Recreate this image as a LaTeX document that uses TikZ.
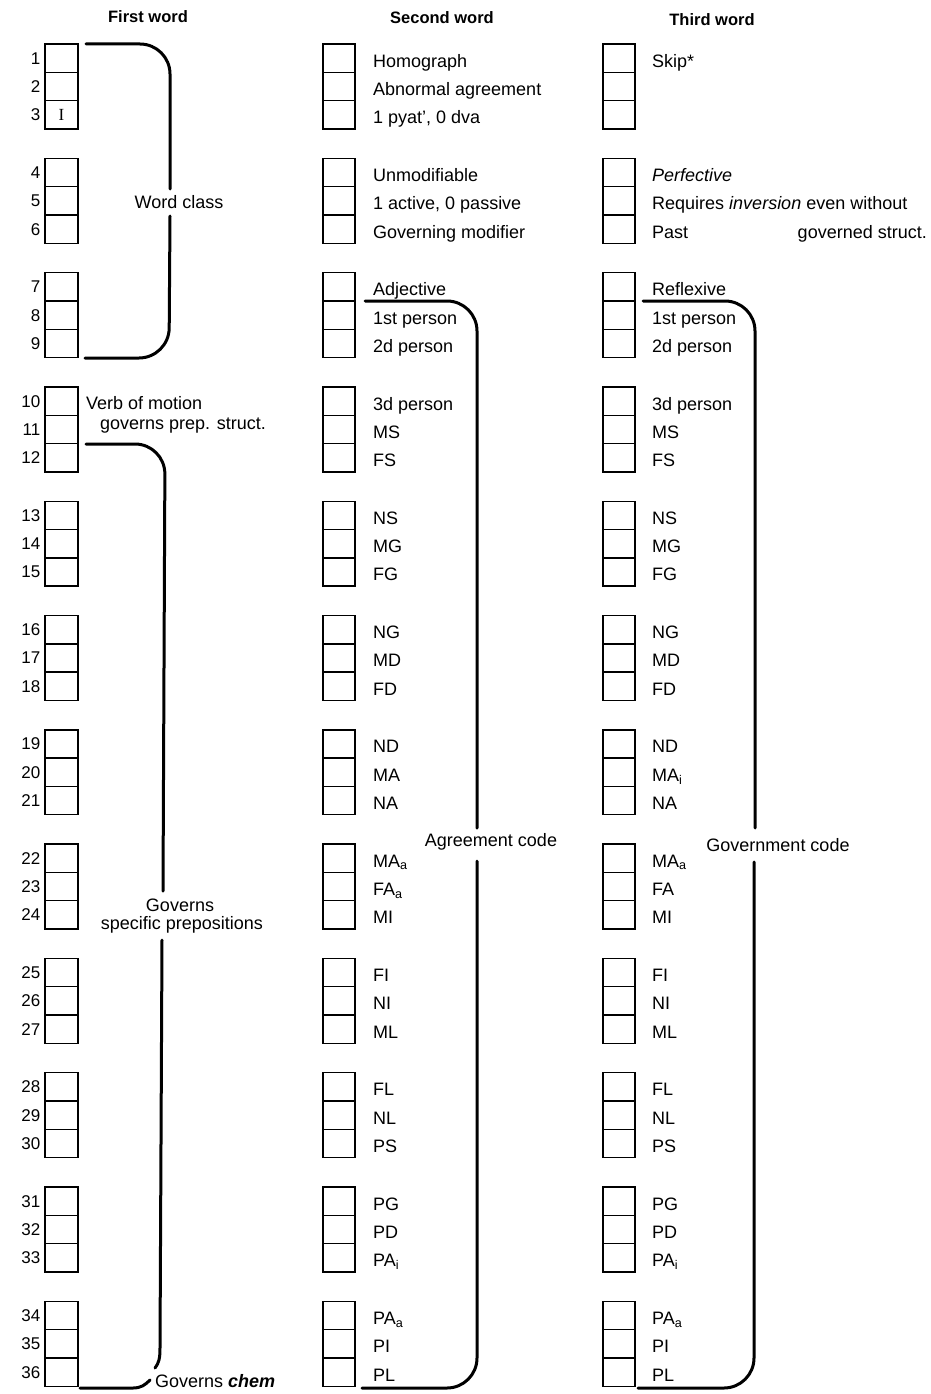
\documentclass[tikz,border=0pt]{standalone}
\usepackage{fontspec}
\setmainfont{Liberation Sans}
\newfontfamily\serifI{Liberation Serif}
\begin{document}
\begin{tikzpicture}[x=1pt,y=-1pt,
  cell/.style={draw, line width=1.4pt, minimum width=32pt, minimum height=28.3pt, inner sep=0pt, outer sep=0pt},
  num/.style={anchor=base east, inner sep=0pt, font=\fontsize{17}{18}\selectfont},
  lab/.style={anchor=base west, inner sep=0pt, font=\fontsize{18}{20}\selectfont},
  free/.style={inner sep=0pt, font=\fontsize{18}{20}\selectfont},
  head/.style={inner sep=0pt, font=\fontsize{16.5}{18}\selectfont\bfseries},
  brk/.style={line width=3pt, rounded corners=30pt, line cap=round},
  hook/.style={line width=3pt, line cap=round},
]
\useasboundingbox (0,0) rectangle (931,1394);

% headers
\node[head] (h1) at (148,17) {First word};
\node[head] (h2) at (442,18) {Second word};
\node[head] (h3) at (712,20) {Third word};

% boxes and numbers
\foreach \k in {1,...,36} {
  \pgfmathtruncatemacro\grp{(\k-1)/3}
  \pgfmathtruncatemacro\pos{mod(\k-1,3)}
  \pgfmathsetmacro\yy{44+\grp*114.3+(\pos+0.5)*28.3}
  \node[cell, minimum width=33pt] (a\k) at (61.5,\yy) {};
  \node[num] (n\k) at ([xshift=-21pt,yshift=-6pt]a\k.center) {\k};
  \node[cell] (b\k) at (339,\yy) {};
  \node[cell] (c\k) at (619,\yy) {};
}
\node[inner sep=0pt, font=\serifI\fontsize{17}{18}\selectfont] (iI) at (a3.center) {I};

% second word labels
\foreach \k/\t in {1/Homograph, 2/Abnormal agreement, 3/{1 pyat', 0 dva},
  4/Unmodifiable, 5/{1 active, 0 passive}, 6/Governing modifier,
  7/Adjective, 8/1st person, 9/2d person, 10/3d person, 11/MS, 12/FS,
  13/NS, 14/MG, 15/FG, 16/NG, 17/MD, 18/FD, 19/ND, 20/MA, 21/NA,
  22/MA\textsubscript{a}, 23/FA\textsubscript{a}, 24/MI, 25/FI, 26/NI, 27/ML,
  28/FL, 29/NL, 30/PS, 31/PG, 32/PD, 33/PA\textsubscript{i},
  34/PA\textsubscript{a}, 35/PI, 36/PL} {
  \node[lab] (bl\k) at ([xshift=18pt,yshift=-9pt]b\k.east) {\t};
}
% third word labels
\foreach \k/\t in {1/Skip*, 4/\textit{Perfective}, 5/Requires \textit{inversion} even without, 6/Past,
  7/Reflexive, 8/1st person, 9/2d person, 10/3d person, 11/MS, 12/FS,
  13/NS, 14/MG, 15/FG, 16/NG, 17/MD, 18/FD, 19/ND, 20/MA\textsubscript{i}, 21/NA,
  22/MA\textsubscript{a}, 23/FA, 24/MI, 25/FI, 26/NI, 27/ML,
  28/FL, 29/NL, 30/PS, 31/PG, 32/PD, 33/PA\textsubscript{i},
  34/PA\textsubscript{a}, 35/PI, 36/PL} {
  \node[lab] (cl\k) at ([xshift=17pt,yshift=-9pt]c\k.east) {\t};
}
\node[anchor=base east, inner sep=0pt, font=\fontsize{18}{20}\selectfont] (gs) at ([yshift=-9pt]927,229) {governed struct.};

% first word extra labels
\node[lab] (vm) at (86,409) {Verb of motion};
\node[lab] (gp) at (100,429) {governs prep. struct.};

% bracket: word class
\node[free] (wc) at (179,202) {Word class};
\draw[brk] (86,44) -- (170,44) -- (170,189);
\draw[brk] (170,216) -- (169,358) -- (85,358);

% bracket: governs specific prepositions
\node[free] (gv1) at (180,905) {Governs};
\node[free] (gv2) at (182,925) {specific prepositions};
\draw[brk] (86,444) -- (165,444) -- (163,891);
\draw[hook] (162,940) -- (160,1348) .. controls (160,1358) and (159,1363) .. (155,1368);
\node[anchor=west, free] (gc) at (155,1381) {Governs \textbf{\textit{chem}}};
\draw[hook] (80,1388) -- (133,1388) .. controls (141,1388) and (145,1385) .. (150,1380);

% bracket: agreement code
\node[free] (ac) at (491,842) {Agreement code};
\draw[brk] (365,301) -- (477,301) -- (477,828);
\draw[brk] (477,861) -- (477,1388) -- (362,1388);

% bracket: government code
\node[free] (gvc) at (778,845) {Government code};
\draw[brk] (643,301) -- (755,301) -- (755,828);
\draw[brk] (754,862) -- (754,1388) -- (638,1388);
\end{tikzpicture}
\end{document}
